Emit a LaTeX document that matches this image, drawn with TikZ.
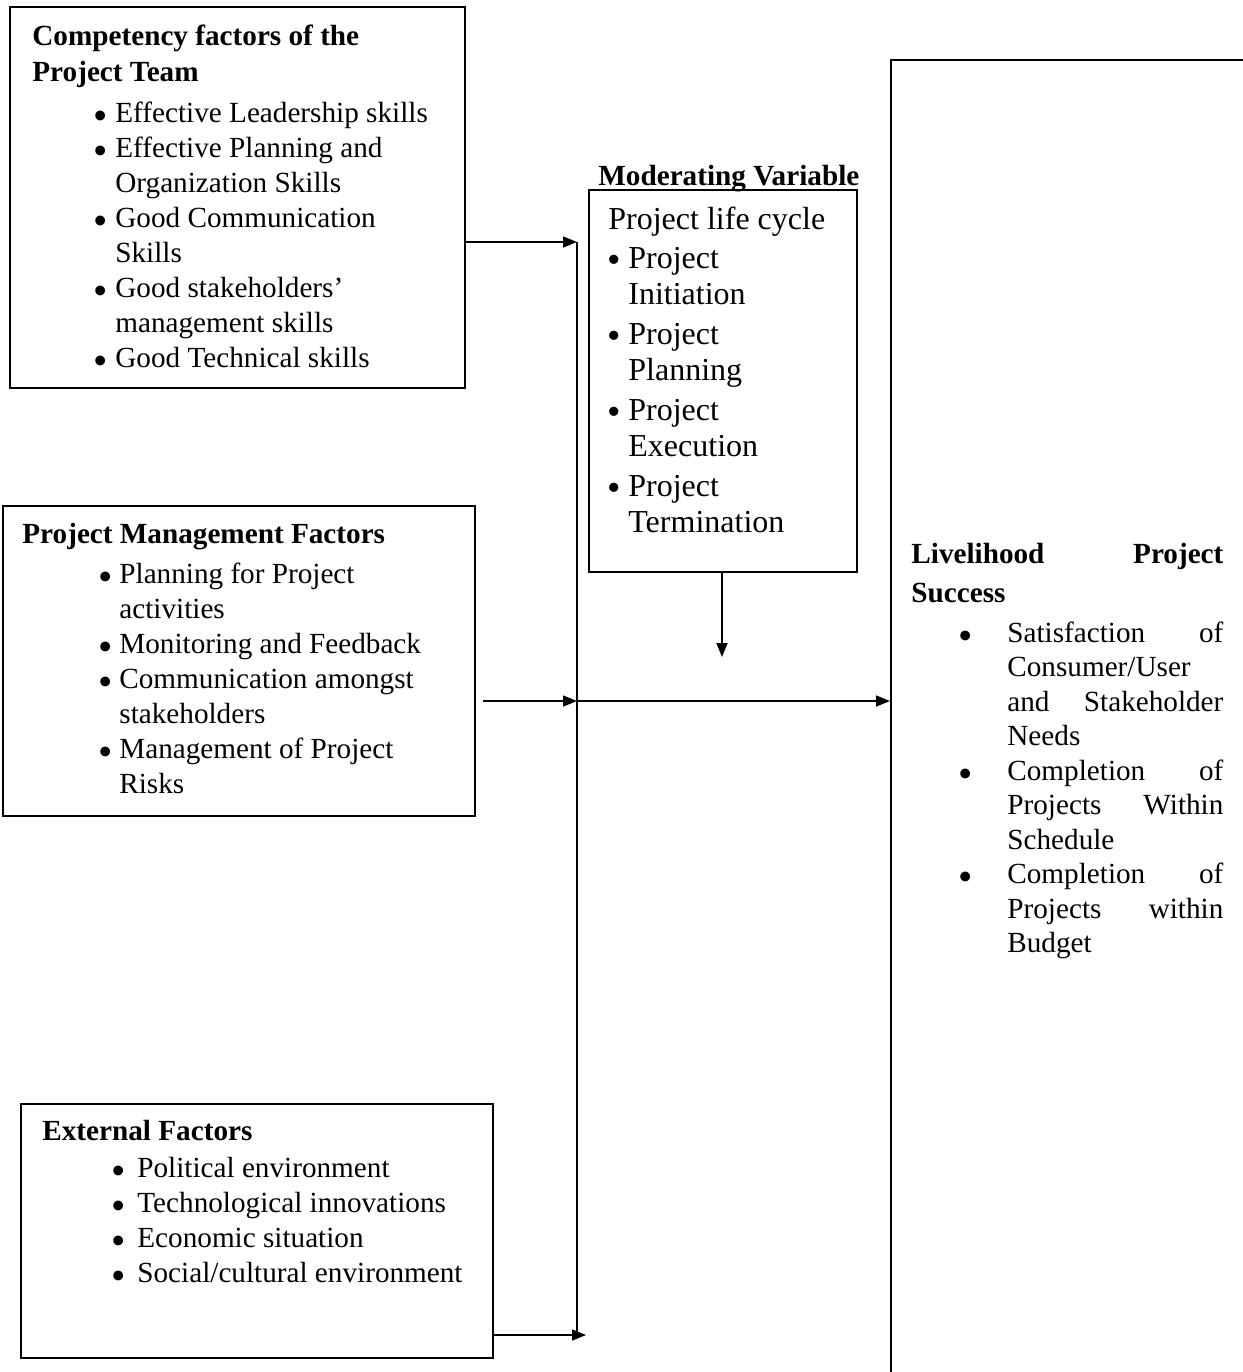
\documentclass[tikz,border=0pt]{standalone}
\usepackage{fontspec}
\setmainfont{Liberation Serif}
\usetikzlibrary{arrows.meta}
\newcommand{\bigbul}{\raisebox{-3.6pt}{\scalebox{1.4}{\textbullet}}}
\newcommand{\midbul}{\raisebox{-2.4pt}{\scalebox{1.2}{\textbullet}}}
\newcommand{\mybul}[2]{\hspace*{#1}\makebox[0pt][c]{\bigbul}\hspace*{\dimexpr#2-#1\relax}}
\newcommand{\smbul}[2]{\hspace*{#1}\makebox[0pt][c]{\midbul}\hspace*{\dimexpr#2-#1\relax}}
\newcommand{\mycont}[1]{\hspace*{#1}}
\newcommand{\ltab}[1]{\begin{tabular}[t]{@{}l@{}}#1\end{tabular}}
\tikzset{
  box/.style={draw, line width=1pt, inner sep=0pt, anchor=north west},
  txt/.style={inner sep=0pt, anchor=base west, font=\fontsize{14.6}{17.5}\selectfont},
  conn/.style={line width=0.75pt},
  arr/.style={conn, -{Triangle[length=7pt,width=5.5pt]}},
}
\begin{document}
\begin{tikzpicture}[x=0.5pt,y=-0.5pt]
\useasboundingbox (0,0) rectangle (1243,1372);
\clip (0,0) rectangle (1243,1372);
\fill[white] (0,0) rectangle (1243,1372);

% boxes
\node[box, minimum width=227.5pt, minimum height=190.5pt] (comp) at (9,6) {};
\node[box, minimum width=134pt, minimum height=191pt] (mod) at (588,189) {};
\node[box, minimum width=236pt, minimum height=155pt] (pm) at (2,505) {};
\node[box, minimum width=236pt, minimum height=127pt] (ext) at (20,1103) {};
\node[box, minimum width=200pt, minimum height=680pt] (succ) at (890,59) {};

% texts
\node[txt] (compT) at (32,45) {\ltab{\textbf{Competency factors of the}\\[0.5pt]
\textbf{Project Team}\\[3pt]
\mybul{34pt}{41.5pt}Effective Leadership skills\\
\mybul{34pt}{41.5pt}Effective Planning and\\
\mycont{41.5pt}Organization Skills\\
\mybul{34pt}{41.5pt}Good Communication\\
\mycont{41.5pt}Skills\\
\mybul{34pt}{41.5pt}Good stakeholders’\\
\mycont{41.5pt}management skills\\
\mybul{34pt}{41.5pt}Good Technical skills}};

\node[txt, font=\fontsize{14.6}{17.5}\selectfont\bfseries] (modT) at (598,185) {Moderating Variable};

\node[txt, font=\fontsize{16}{18.25}\selectfont] (modL) at (608,229) {\ltab{Project life cycle\\[1.25pt]
\smbul{3pt}{10pt}Project\\
\mycont{10pt}Initiation\\[1.5pt]
\smbul{3pt}{10pt}Project\\
\mycont{10pt}Planning\\[1.5pt]
\smbul{3pt}{10pt}Project\\
\mycont{10pt}Execution\\[1.5pt]
\smbul{3pt}{10pt}Project\\
\mycont{10pt}Termination}};

\node[txt] (pmT) at (22,543) {\ltab{\textbf{Project Management Factors}\\[2.5pt]
\mybul{41.5pt}{48.5pt}Planning for Project\\
\mycont{48.5pt}activities\\
\mybul{41.5pt}{48.5pt}Monitoring and Feedback\\
\mybul{41.5pt}{48.5pt}Communication amongst\\
\mycont{48.5pt}stakeholders\\
\mybul{41.5pt}{48.5pt}Management of Project\\
\mycont{48.5pt}Risks}};

\node[txt] (extT) at (42,1140) {\ltab{\textbf{External Factors}\\[1pt]
\mybul{38pt}{47.5pt}Political environment\\
\mybul{38pt}{47.5pt}Technological innovations\\
\mybul{38pt}{47.5pt}Economic situation\\
\mybul{38pt}{47.5pt}Social/cultural environment}};

\node[txt, font=\fontsize{14.6}{17.25}\selectfont] (succT) at (911,563) {\ltab{\makebox[156pt][s]{\bfseries Livelihood Project}\\[2.25pt]
\textbf{Success}\\[2.75pt]
\mybul{27pt}{48pt}\makebox[108pt][s]{Satisfaction of}\\
\mycont{48pt}Consumer/User\\
\mycont{48pt}\makebox[108pt][s]{and Stakeholder}\\
\mycont{48pt}Needs\\
\mybul{27pt}{48pt}\makebox[108pt][s]{Completion of}\\
\mycont{48pt}\makebox[108pt][s]{Projects Within}\\
\mycont{48pt}Schedule\\
\mybul{27pt}{48pt}\makebox[108pt][s]{Completion of}\\
\mycont{48pt}\makebox[108pt][s]{Projects within}\\
\mycont{48pt}Budget}};

% connectors
\coordinate (j1) at (577,242);
\coordinate (j2) at (577,701);
\coordinate (j3) at (577,1335);
\coordinate (p0) at (483,701);
\coordinate (d1) at (722,657);
\coordinate (e1) at (586,1335);

\draw[arr] (comp.east |- j1) -- (j1);
\draw[conn] (j1) -- (j3);
\draw[arr] (p0) -- (j2);
\draw[arr] (j2) -- (succ.west |- j2);
\draw[arr] (mod.south -| d1) -- (d1);
\draw[arr] (ext.east |- j3) -- (e1);
\end{tikzpicture}
\end{document}
